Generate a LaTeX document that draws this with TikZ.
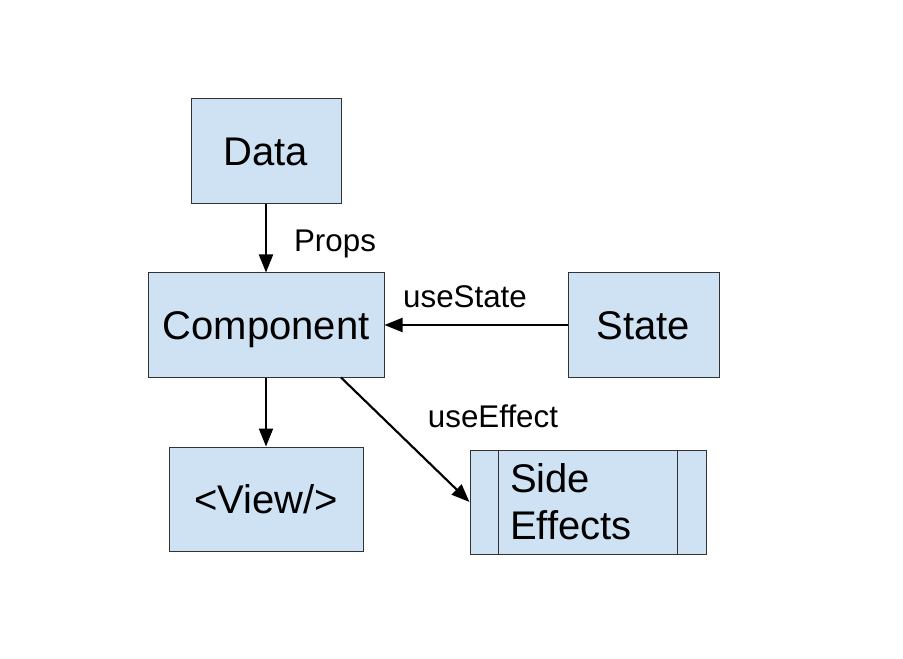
\documentclass[tikz,border=0pt]{standalone}
\usepackage{fontspec}
\setmainfont{Liberation Sans}
\usetikzlibrary{arrows.meta}
\definecolor{boxblue}{HTML}{CFE2F3}
\tikzset{
  block/.style={draw=black!80, line width=.75pt, fill=boxblue, inner sep=0pt,
    minimum height=78pt, font=\fontsize{30}{35}\selectfont},
  oneline/.style={text height=21.4pt, text depth=0pt},
  flow/.style={line width=1.6pt, -{Triangle[length=13.5pt,width=10.5pt]}},
  lbl/.style={font=\fontsize{23.5}{28}\selectfont, inner sep=0pt, anchor=base}
}

\begin{document}
\begin{tikzpicture}[x=.75pt, y=-.75pt]
\useasboundingbox (0,0) rectangle (903,659);

\node[block, oneline, minimum width=112.5pt, minimum height=78.75pt] (data) at (266,151.5) {Data};
\node[block, oneline, minimum width=177pt] (comp) at (266,325) {Component};
\node[block, oneline, minimum width=113.25pt] (state) at (643.5,325) {State};
\node[block, oneline, minimum width=145.5pt] (view) at (266,499) {<View/>};
\node[block, text width=117pt, inner xsep=30pt, align=left] (side) at (588,502) {Side\\Effects};

% side bars of the process box
\draw[draw=black!80, line width=.75pt] ([xshift=21.75pt]side.north west) -- ([xshift=21.75pt]side.south west);
\draw[draw=black!80, line width=.75pt] ([xshift=-21.75pt]side.north east) -- ([xshift=-21.75pt]side.south east);

\draw[flow] (data.south) -- (comp.north);
\draw[flow] (state.west) -- (comp.east);
\draw[flow] (comp.south) -- (view.north);
\draw[flow] (comp.-35) -- (side.west);

\node[lbl] (props) at (335,252) {Props};
\node[lbl] (usestate) at (465,307) {useState};
\node[lbl] (useeffect) at (493,427) {useEffect};
\end{tikzpicture}
\end{document}
